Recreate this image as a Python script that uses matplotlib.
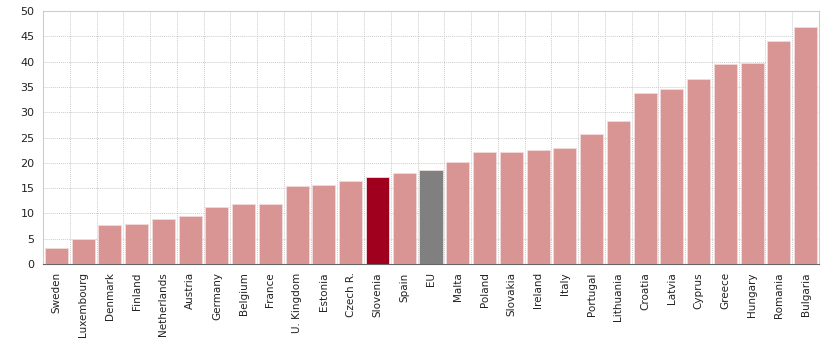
import matplotlib
matplotlib.use("Agg")
import matplotlib.pyplot as plt
import numpy as np

countries = ["Sweden", "Luxembourg", "Denmark", "Finland", "Netherlands", "Austria",
             "Germany", "Belgium", "France", "U. Kingdom", "Estonia", "Czech R.",
             "Slovenia", "Spain", "EU", "Malta", "Poland", "Slovakia", "Ireland",
             "Italy", "Portugal", "Lithuania", "Croatia", "Latvia", "Cyprus",
             "Greece", "Hungary", "Romania", "Bulgaria"]
values = [3.2, 5.0, 7.7, 7.9, 8.9, 9.4, 11.3, 11.8, 11.9, 15.5, 15.7, 16.5,
          17.2, 17.9, 18.6, 20.2, 22.2, 22.2, 22.6, 23.0, 25.7, 28.3, 33.8,
          34.6, 36.5, 39.5, 39.7, 44.0, 46.8]
yticks = [0, 5, 10, 15, 20, 25, 30, 35, 40, 45, 50]

base_color = "#d99594"
colors = []
for c in countries:
    if c == "Slovenia":
        colors.append("#a0001e")
    elif c == "EU":
        colors.append("#808080")
    else:
        colors.append(base_color)

fig = plt.figure(figsize=(8.33, 3.52), dpi=100)
ax = fig.add_axes([43/833, 1-264/352, (819-43)/833, (264-11)/352])
x = np.arange(len(countries))
ax.bar(x, values, width=0.86, color=colors, edgecolor="#f2dcdb", linewidth=0.6, zorder=3)

ax.set_xlim(-0.5, len(countries)-0.5)
ax.set_ylim(0, 50)
ax.set_yticks(yticks)
ax.set_yticklabels([str(v) for v in yticks], fontsize=8, color="#222222")
ax.set_xticks(x)
ax.set_xticklabels(countries, rotation=90, fontsize=7.5, color="#222222")
ax.set_xticks(np.arange(-0.5, len(countries), 1), minor=True)
ax.tick_params(axis="both", which="both", length=0)
ax.tick_params(axis="y", pad=6)
ax.tick_params(axis="x", pad=6)
ax.grid(axis="y", which="major", color="#cccccc", linestyle=(0, (1, 1)), linewidth=0.7, zorder=0)
ax.grid(axis="x", which="minor", color="#cccccc", linestyle=(0, (1, 1)), linewidth=0.7, zorder=0)
ax.grid(axis="x", which="major", visible=False)
for s in ax.spines.values():
    s.set_color("#cccccc")
    s.set_linewidth(0.8)
ax.spines["bottom"].set_color("#666666")

fig.savefig("out.png", dpi=100)
